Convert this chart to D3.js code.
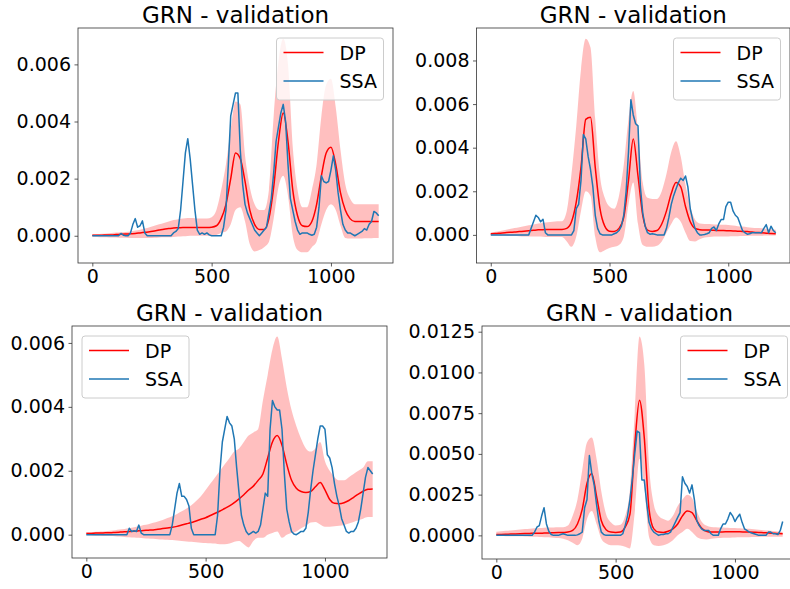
<!DOCTYPE html>
<html>
<head>
<meta charset="utf-8">
<script src="https://cdn.jsdelivr.net/npm/d3@7"></script>
<style>
  body { margin: 0; background: #fff; }
  svg text { font-family: "DejaVu Sans", sans-serif; fill: #000; }
</style>
</head>
<body>
<div id="chart"></div>
<script>
// x grids: SSA sampled every 10, DP every 20
var xSSA = d3.range(0, 1201, 10);
var xDP = d3.range(0, 1201, 20);

var xTicks = [0, 500, 1000];
var title = "GRN - validation";
var seriesNames = ["DP", "SSA"];

// ---------- panel 1 ----------
var ssa1 = [
  0,0,0,0,0,0,0,0,0,0,
  0,0,0.00008,0.00002,0,0,0.0001,0.0004,0.0006,0.0003,
  0.00035,0.00052,0.0001,0,0,0,0,0,0,0,
  0,0,0,0,0.0001,0.00015,0.00025,0.0009,0.0019,0.0029,
  0.0034,0.0027,0.0018,0.0009,0.0002,0.00005,0.0001,0.00005,0.0001,0.00003,
  0,0,0,0,0,0.0003,0.0009,0.0025,0.0042,0.0046,
  0.005,0.005,0.003,0.0018,0.0011,0.0008,0.0006,0.0004,0.0002,0.0001,
  0,0.0001,0.0002,0.0003,0.0008,0.0013,0.0022,0.0033,0.0038,0.0043,
  0.0046,0.004,0.0025,0.0013,0.0009,0.0005,0.0002,0.00005,0.0001,0.0001,
  0.0001,0.00005,0.00002,0.00005,0.0003,0.001,0.0021,0.0019,0.00185,0.0019,
  0.0023,0.0028,0.0023,0.0015,0.0009,0.0004,0.0002,0.0001,0.0001,0.00005,
  0,0.00005,0.0001,0.00015,0.00025,0.0002,0.0004,0.0005,0.00085,0.0008,
  0.0007];
var dp1 = [
  0.00002,0.00002,0.00002,0.00003,0.00003,
  0.00004,0.00005,0.00006,0.00007,0.00008,
  0.0001,0.00012,0.00014,0.00017,0.0002,
  0.00023,0.00025,0.00027,0.00028,0.00029,
  0.00029,0.00029,0.00029,0.00029,0.00029,
  0.0003,0.00035,0.0006,0.0011,0.002,
  0.0029,0.0027,0.0019,0.0009,0.0004,
  0.00022,0.00022,0.0006,0.0017,0.0033,
  0.0043,0.0033,0.0016,0.0007,0.00035,
  0.00032,0.0005,0.0011,0.0021,0.0029,
  0.0031,0.0025,0.0015,0.0009,0.0006,
  0.0005,0.0005,0.0005,0.0005,0.0005,
  0.0005];
var hi1 = [
  0.00005,0.00006,0.00007,0.00008,0.0001,
  0.00011,0.00012,0.00013,0.00015,0.00018,
  0.00021,0.00025,0.0003,0.00035,0.0004,
  0.00045,0.0005,0.00055,0.00058,0.0006,
  0.00062,0.00062,0.0006,0.0006,0.0006,
  0.00065,0.0009,0.0016,0.0025,0.0037,
  0.0047,0.0046,0.0028,0.0017,0.0011,
  0.0009,0.0009,0.0016,0.0042,0.0061,
  0.0069,0.006,0.0031,0.0016,0.001,
  0.001,0.0016,0.0025,0.0042,0.0053,
  0.0055,0.0045,0.003,0.0018,0.0013,
  0.0011,0.0011,0.0011,0.0011,0.0011,
  0.0011];
var lo1 = [
  -0.00004,-0.00004,-0.00005,-0.00005,-0.00006,
  -0.00006,-0.00007,-0.00007,-0.00008,-0.00008,
  -0.00008,-0.00008,-0.00008,-0.00007,-0.00006,
  -0.00005,-0.00005,-0.00004,-0.00003,-0.00002,
  -0.00001,0,0,0,0,
  0,0.00003,0.0001,0.00015,0.0004,
  0.0009,0.001,0.0005,-0.0003,-0.00055,
  -0.0005,-0.0004,-0.00022,0.0006,0.0017,
  0.0021,0.0014,0,-0.0005,-0.00058,
  -0.00058,-0.0004,-0.0002,0.0004,0.0009,
  0.0011,0.0009,0.00035,-0.00008,-0.0001,
  -0.0001,-0.0001,-0.00009,-0.00009,-0.00008,
  -0.00008];
var yTicks1 = [0, 0.002, 0.004, 0.006];

// ---------- panel 2 ----------
var ssa2 = [
  0,0,0,0,0,0,0,0,0,0,
  0,0,0,0,0,0,0,0.0003,0.0006,0.0009,
  0.0008,0.0006,0.00072,0.0001,0,0,0,0,0,0,
  0,0,0,0,0,0.0002,0.0012,0.0014,0.0025,0.0046,
  0.0044,0.0036,0.003,0.0022,0.0009,0.0003,0.00005,0,0,0,
  0,0,0.00005,0.0001,0.0002,0.0004,0.0009,0.002,0.0038,0.0062,
  0.0055,0.0051,0.005,0.0022,0.001,0.0004,0.0001,0.00003,0.00005,0.00003,
  0,0,0,0,0.0003,0.0008,0.0014,0.0018,0.0021,0.0024,
  0.0026,0.0025,0.0027,0.0022,0.0012,0.0007,0.0003,0.0001,0,0,
  0.00002,0.00005,0.0001,0.0003,0.00036,0.0002,0.0005,0.0007,0.0007,0.0013,
  0.0015,0.0015,0.0011,0.0009,0.0008,0.0005,0.0002,0.0001,0.00003,0.00005,
  0.0001,0.0001,0.0001,0.0001,0.0001,0.0003,0.00047,0.0001,0.0004,0.0002,
  0.0001];
var dp2 = [
  0.00005,0.00006,0.00008,0.0001,0.00012,
  0.00013,0.00015,0.00017,0.00019,0.00021,
  0.00023,0.00024,0.00025,0.00025,0.00025,
  0.00025,0.0003,0.0006,0.0015,0.0031,
  0.0053,0.0054,0.0031,0.0012,0.0004,
  0.00017,0.00016,0.0003,0.0008,0.0025,
  0.0044,0.0027,0.0009,0.00022,0.00016,
  0.0002,0.0005,0.0011,0.0019,0.0024,
  0.0022,0.0013,0.0006,0.0003,0.00024,
  0.00022,0.00022,0.00021,0.0002,0.0002,
  0.00019,0.00018,0.00017,0.00016,0.00015,
  0.00013,0.00011,0.0001,0.00008,0.00006,
  0.00005];
var hi2 = [
  0.0001,0.00014,0.00018,0.00022,0.00027,
  0.00031,0.00035,0.0004,0.00044,0.00048,
  0.00052,0.00055,0.00058,0.0006,0.00062,
  0.00063,0.0011,0.0028,0.005,0.0076,
  0.009,0.0086,0.0053,0.0027,0.0017,
  0.0013,0.0012,0.0018,0.0032,0.0053,
  0.0066,0.0048,0.0024,0.0017,0.00165,
  0.00165,0.002,0.0028,0.0038,0.0043,
  0.0036,0.0023,0.0013,0.0007,0.00052,
  0.0005,0.0005,0.00048,0.00047,0.00046,
  0.00045,0.00043,0.0004,0.00038,0.00035,
  0.00033,0.00031,0.0003,0.00028,0.00026,
  0.00024];
var lo2 = [
  0,-0.00002,-0.00003,-0.00004,-0.00005,
  -0.00005,-0.00006,-0.00007,-0.00007,-0.00008,
  -0.00008,-0.00009,-0.0001,-0.0001,-0.0001,
  -0.0001,-0.0003,-0.00055,-0.00008,0.0011,
  0.002,0.0018,-0.0001,-0.0008,-0.0007,
  -0.0006,-0.00055,-0.00047,-0.0001,0.0014,
  0.0024,0.0005,-0.00047,-0.00055,-0.00055,
  -0.0005,-0.0003,0.0001,0.0005,0.0008,
  0.0006,0.0001,-0.00028,-0.0003,-0.0002,
  -0.00012,-0.0001,-0.00008,-0.00008,-0.00007,
  -0.00007,-0.00006,-0.00006,-0.00005,-0.00005,
  -0.00004,-0.00004,-0.00004,-0.00003,-0.00003,
  -0.00003];
var yTicks2 = [0, 0.002, 0.004, 0.006, 0.008];

// ---------- panel 3 ----------
var ssa3 = [
  0,0,0,0,0,0,0,0,0,0,
  0,0,0,0,0,0,0,0,0.0002,0.0001,
  0.00012,0.0001,0.0003,0.00005,0,0,0,0,0,0,
  0,0,0,0,0,0,0.0003,0.0008,0.0013,0.0016,
  0.0012,0.0012,0.0011,0.0009,0.0002,0,0,0,0,0,
  0,0,0,0,0,0.0006,0.002,0.0029,0.0033,0.0037,
  0.0035,0.0034,0.003,0.0021,0.0013,0.0006,0.0003,0.0001,0,0.00005,
  0.0001,0.00005,0.0001,0.0003,0.0008,0.0013,0.0012,0.0033,0.0042,0.004,
  0.0039,0.0039,0.0033,0.0019,0.0008,0.0004,0.0001,0.00002,0,0.00005,
  0.0001,0.0001,0.0002,0.0007,0.0014,0.002,0.0025,0.003,0.0034,0.0034,
  0.0033,0.0025,0.0024,0.0021,0.0016,0.0012,0.0009,0.0005,0.0003,0.0001,
  0.00005,0.0001,0.0001,0.0002,0.0004,0.0008,0.0013,0.0018,0.0021,0.002,
  0.0019];
var dp3 = [
  0.00004,0.00004,0.00005,0.00005,0.00006,
  0.00006,0.00007,0.00008,0.00009,0.0001,
  0.00011,0.00012,0.00013,0.00014,0.00015,
  0.00017,0.00019,0.00021,0.00023,0.00026,
  0.0003,0.00034,0.00038,0.00043,0.00048,
  0.00053,0.0006,0.00067,0.00074,0.00082,
  0.0009,0.001,0.00112,0.00125,0.0014,
  0.00152,0.0017,0.0019,0.0024,0.0029,
  0.0031,0.0028,0.0022,0.0017,0.00145,
  0.00135,0.00132,0.00135,0.0015,0.00163,
  0.0014,0.0011,0.00098,0.00097,0.001,
  0.00107,0.00117,0.00127,0.00136,0.00142,
  0.00143];
var hi3 = [
  0.00008,0.00008,0.00009,0.0001,0.00011,
  0.00012,0.00014,0.00016,0.00018,0.0002,
  0.00023,0.00026,0.0003,0.00033,0.00037,
  0.00041,0.00046,0.00052,0.00058,0.00065,
  0.00073,0.00082,0.00092,0.00105,0.0012,
  0.0014,0.0016,0.0018,0.002,0.0022,
  0.0024,0.0026,0.0027,0.0029,0.0031,
  0.0032,0.0033,0.0042,0.005,0.0058,
  0.0062,0.0055,0.0046,0.0039,0.0034,
  0.003,0.0027,0.0026,0.0027,0.0029,
  0.0023,0.002,0.0018,0.0017,0.0017,
  0.0018,0.0019,0.002,0.0021,0.0023,
  0.0023];
var lo3 = [
  -0.00002,-0.00002,-0.00003,-0.00003,-0.00004,
  -0.00004,-0.00005,-0.00006,-0.00007,-0.00008,
  -0.00009,-0.0001,-0.00011,-0.00012,-0.00013,
  -0.00014,-0.00015,-0.00016,-0.00017,-0.00018,
  -0.0002,-0.00021,-0.00022,-0.00024,-0.00025,
  -0.00026,-0.00027,-0.00028,-0.0003,-0.0003,
  -0.00028,-0.00022,-0.0002,-0.0003,-0.0004,
  -0.0002,-0.0001,-0.0001,0,0.00005,
  0.0001,-0.0001,0,0.00005,0.0001,
  0.0002,0.00028,0.00038,0.0004,0.00032,
  0.00025,0.00025,0.00026,0.00028,0.0003,
  0.00035,0.0004,0.00045,0.0005,0.00055,
  0.00055];
var yTicks3 = [0, 0.002, 0.004, 0.006];

// ---------- panel 4 ----------
var ssa4 = [
  0,0,0,0,0,0,0,0,0,0,
  0,0,0,0,0,0,0.0002,0.0005,0.0006,0.0012,
  0.0017,0.0007,0.00025,0.00005,0,0,0,0.00005,0.0001,0.00005,
  0,0,0,0,0.00003,0.0001,0.0002,0.0017,0.0022,0.0049,
  0.0038,0.0031,0.0019,0.00085,0.0002,0.00005,0,0,0,0,
  0,0,0,0.0001,0.0006,0.0012,0.0022,0.0035,0.005,0.0064,
  0.0063,0.0034,0.0034,0.002,0.0008,0.0004,0.0002,0.0001,0,0.00005,
  0.00005,0.0001,0.0001,0.0002,0.0005,0.0008,0.0011,0.0014,0.0036,0.0032,
  0.003,0.0026,0.0031,0.0022,0.0009,0.0006,0.0004,0.0003,0.0003,0.0003,
  0.0001,0,0,0,0.0004,0.0007,0.0007,0.001,0.0014,0.0012,
  0.00085,0.0011,0.0013,0.0008,0.0004,0.0003,0.0002,0.00015,0.0001,0.00005,
  0,0,0,0,0.0002,0.0002,0.0001,0.0001,0.00005,0.0003,
  0.00085];
var dp4 = [
  0.00005,0.00006,0.00007,0.00008,0.00009,
  0.0001,0.00011,0.00012,0.00013,0.00013,
  0.00014,0.00015,0.00016,0.00017,0.00018,
  0.0002,0.0003,0.0007,0.0016,0.0032,
  0.0038,0.0024,0.0009,0.00035,0.0002,
  0.00018,0.0002,0.0005,0.0013,0.0055,
  0.0083,0.006,0.0016,0.0004,0.0002,
  0.00018,0.00025,0.0004,0.0007,0.0012,
  0.0015,0.0014,0.0009,0.00045,0.00025,
  0.0002,0.0002,0.00021,0.00022,0.00022,
  0.00022,0.00022,0.00021,0.0002,0.00019,
  0.00018,0.00016,0.00015,0.00013,0.00011,
  0.0001];
var hi4 = [
  0.00022,0.00025,0.00028,0.0003,0.00033,
  0.00036,0.00039,0.00041,0.00043,0.00045,
  0.00047,0.00048,0.00049,0.0005,0.0005,
  0.0006,0.0012,0.0022,0.004,0.0057,
  0.006,0.0047,0.0027,0.0013,0.0008,
  0.0006,0.00065,0.0012,0.0028,0.0075,
  0.0122,0.0105,0.0043,0.0019,0.0012,
  0.001,0.0009,0.0012,0.0018,0.0022,
  0.0025,0.0023,0.0015,0.00085,0.0006,
  0.00052,0.0005,0.00048,0.00047,0.00046,
  0.00045,0.00043,0.00041,0.0004,0.00038,
  0.00035,0.00032,0.0003,0.00027,0.00024,
  0.00022];
var lo4 = [
  -0.00004,-0.00004,-0.00005,-0.00005,-0.00006,
  -0.00006,-0.00007,-0.00008,-0.00009,-0.0001,
  -0.00011,-0.00012,-0.00014,-0.00016,-0.0002,
  -0.0003,-0.00045,-0.0006,-0.0002,0.001,
  0.0015,0.0007,-0.0002,-0.0005,-0.0006,
  -0.0006,-0.00062,-0.0007,-0.0008,0.0014,
  0.0047,0.003,-0.0001,-0.0006,-0.00065,
  -0.0006,-0.0005,-0.0003,0,0.0002,
  0.0004,0.0002,-0.0001,-0.00022,-0.00025,
  -0.0002,-0.00017,-0.00016,-0.00015,-0.00014,
  -0.00013,-0.00012,-0.00012,-0.00011,-0.0001,
  -0.0001,-0.00009,-0.00009,-0.00008,-0.00008,
  -0.00008];
var yTicks4 = [0, 0.0025, 0.005, 0.0075, 0.01, 0.0125];

var W = 790, H = 589;
var svg = d3.select("#chart").append("svg")
    .attr("width", W)
    .attr("height", H)

var panels = [
    { box: [78, 28, 393, 263], ssa: ssa1, dp: dp1, hi: hi1, lo: lo1, yt: yTicks1, fmt: ".3f", legend: "right" },
    { box: [476.5, 28, 790, 263], ssa: ssa2, dp: dp2, hi: hi2, lo: lo2, yt: yTicks2, fmt: ".3f", legend: "right" },
    { box: [72, 326, 387, 558], ssa: ssa3, dp: dp3, hi: hi3, lo: lo3, yt: yTicks3, fmt: ".3f", legend: "left" },
    { box: [482, 326, 797, 559], ssa: ssa4, dp: dp4, hi: hi4, lo: lo4, yt: yTicks4, fmt: ".4f", legend: "right" }
];

panels.forEach(drawPanel);

function drawPanel(p) {
    var x0 = p.box[0], y0 = p.box[1], x1 = p.box[2], y1 = p.box[3];

    // matplotlib style 5% margins
    var ymin = d3.min([d3.min(p.lo), d3.min(p.ssa), d3.min(p.dp)]);
    var ymax = d3.max([d3.max(p.hi), d3.max(p.ssa), d3.max(p.dp)]);
    var pad = (ymax - ymin) * 0.05;

    var x = d3.scaleLinear().domain([-60, 1260]).range([x0, x1]);
    var y = d3.scaleLinear().domain([ymin - pad, ymax + pad]).range([y1, y0]);

    var g = svg.append("g");

    var clipId = "clip" + Math.round(x0) + "_" + Math.round(y0);
    g.append("clipPath").attr("id", clipId)
        .append("rect").attr("x", x0).attr("y", y0).attr("width", x1 - x0).attr("height", y1 - y0);

    var plot = g.append("g").attr("clip-path", "url(#" + clipId + ")");

    var area = d3.area()
        .x(function (d, i) { return x(xDP[i]) })
        .y0(function (d, i) { return y(p.lo[i]) })
        .y1(function (d, i) { return y(p.hi[i]) })
        .curve(d3.curveMonotoneX);

    plot.append("path")
        .datum(p.hi)
        .attr("d", area)
        .attr("fill", "red")
        .attr("fill-opacity", 0.25);

    var lineDP = d3.line()
        .x(function (d, i) { return x(xDP[i]) })
        .y(function (d) { return y(d) })
        .curve(d3.curveMonotoneX);

    plot.append("path")
        .datum(p.dp)
        .attr("d", lineDP)
        .attr("fill", "none")
        .attr("stroke", "red")
        .attr("stroke-width", 1.5);

    var lineSSA = d3.line()
        .x(function (d, i) { return x(xSSA[i]) })
        .y(function (d) { return y(d) });

    plot.append("path")
        .datum(p.ssa)
        .attr("d", lineSSA)
        .attr("fill", "none")
        .attr("stroke", "#1f77b4")
        .attr("stroke-width", 1.5)
        .attr("stroke-linejoin", "round");

    // axes
    var xAxis = g.append("g")
        .attr("transform", "translate(0," + y1 + ")")
        .call(d3.axisBottom(x).tickValues(xTicks).tickSize(3.5).tickPadding(3.5).tickFormat(d3.format("d")));
    var yAxis = g.append("g")
        .attr("transform", "translate(" + x0 + ",0)")
        .call(d3.axisLeft(y).tickValues(p.yt).tickSize(3.5).tickPadding(3.5).tickFormat(d3.format(p.fmt)));

    [xAxis, yAxis].forEach(function (a) {
        a.select(".domain").remove();
        a.selectAll(".tick line").attr("stroke", "#333").attr("stroke-width", 0.8);
        a.selectAll(".tick text").style("font-size", "19px").style("font-family", "DejaVu Sans").attr("fill", "#000");
    });

    // frame
    g.append("rect")
        .attr("x", x0).attr("y", y0)
        .attr("width", x1 - x0).attr("height", y1 - y0)
        .attr("fill", "none")
        .attr("stroke", "#333")
        .attr("stroke-width", 0.8);

    g.append("text")
        .attr("x", (x0 + x1) / 2)
        .attr("y", y0 - 5)
        .attr("text-anchor", "middle")
        .style("font-size", "23px")
        .text(title);

    // legend
    var lw = 107, lh = 62;
    var lx = p.legend == "right" ? x1 - 9.5 - lw : x0 + 10;
    var ly = y0 + 10;
    var lg = g.append("g").attr("transform", "translate(" + lx + "," + ly + ")");
    lg.append("rect")
        .attr("width", lw).attr("height", lh)
        .attr("rx", 3)
        .attr("fill", "white").attr("fill-opacity", 0.8)
        .attr("stroke", "#cccccc").attr("stroke-width", 1);
    var colors = ["red", "#1f77b4"];
    seriesNames.forEach(function (name, i) {
        var yy = 14.5 + i * 28.5;
        lg.append("line")
            .attr("x1", 7).attr("x2", 47)
            .attr("y1", yy).attr("y2", yy)
            .attr("stroke", colors[i]).attr("stroke-width", 1.5);
        lg.append("text")
            .attr("x", 63).attr("y", yy + 7)
            .style("font-size", "19px")
            .text(name);
    });
}
</script>
</body>
</html>
